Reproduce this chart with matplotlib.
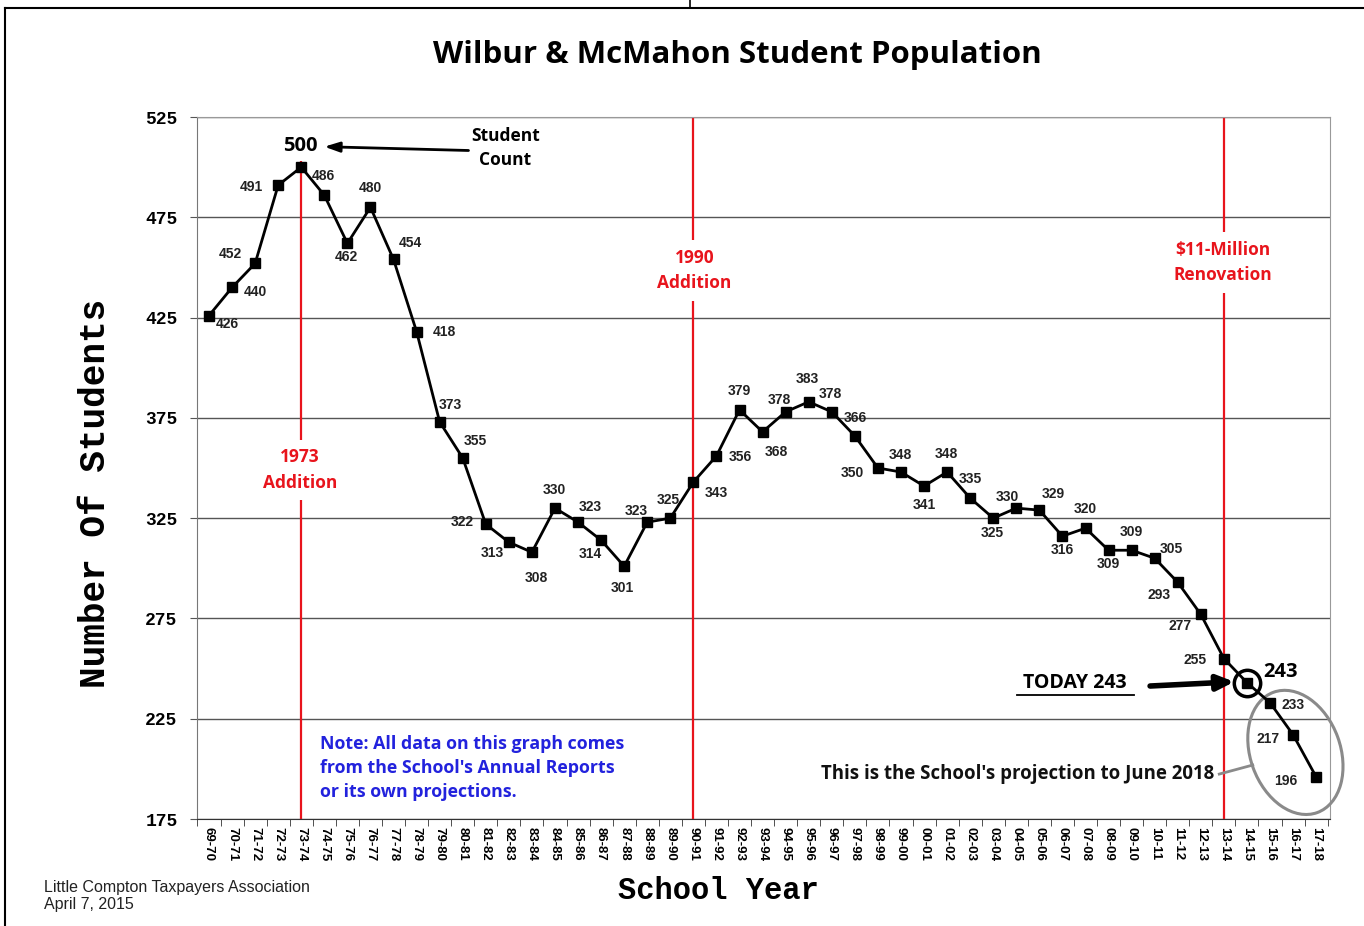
import matplotlib
matplotlib.use("Agg")
import matplotlib.pyplot as plt
from matplotlib.patches import Ellipse
from matplotlib.lines import Line2D
import matplotlib.transforms as mtransforms

# ---------------- data ----------------
school_years = ["69-70", "70-71", "71-72", "72-73", "73-74", "74-75", "75-76", "76-77",
                "77-78", "78-79", "79-80", "80-81", "81-82", "82-83", "83-84", "84-85",
                "85-86", "86-87", "87-88", "88-89", "89-90", "90-91", "91-92", "92-93",
                "93-94", "94-95", "95-96", "96-97", "97-98", "98-99", "99-00", "00-01",
                "01-02", "02-03", "03-04", "04-05", "05-06", "06-07", "07-08", "08-09",
                "09-10", "10-11", "11-12", "12-13", "13-14", "14-15", "15-16", "16-17",
                "17-18"]
students = [426, 440, 452, 491, 500, 486, 462, 480, 454, 418,
            373, 355, 322, 313, 308, 330, 323, 314, 301, 323,
            325, 343, 356, 379, 368, 378, 383, 378, 366, 350,
            348, 341, 348, 335, 325, 330, 329, 316, 320, 309,
            309, 305, 293, 277, 255, 243, 233, 217, 196]
y_ticks = [175, 225, 275, 325, 375, 425, 475, 525]
events = ["73-74", "90-91", "13-14"]
event_labels = ["1973\nAddition", "1990\nAddition", "\\$11-Million\nRenovation"]
peak_year = "73-74"
today_year = "14-15"

# label offsets (pixels, x right / y down) relative to each point; None = special label
label_offsets = [(18, 8), (23, 5), (-25, -9), (-27, 2), None, (-1, -19), (-1, 14), (0, -19),
                 (17, -16), (28, 0), (11, -17), (13, -17), (-24, -2), (-17, 11), (4, 26),
                 (-1, -18), (12, -15), (-11, 14), (-2, 22), (-11, -11), (-2, -18), (23, 11),
                 (24, 1), (0, -19), (14, 20), (-6, -12), (-1, -23), (-1, -18), (0, -18),
                 (-26, 5), (-1, -17), (0, 19), (-1, -18), (0, -19), (-1, 15), (-9, -11),
                 (14, -16), (0, 14), (0, -19), (0, 14), (0, -18), (17, -9), (-19, 13),
                 (-21, 12), (-29, 1), None, (23, 2), (-25, 4), (-30, 4)]

SANS = "Open Sans"

# ---------------- figure ----------------
W, H = 1364, 926
fig = plt.figure(figsize=(W / 100, H / 100), dpi=100)
ax = fig.add_axes([197 / W, 1 - 819 / H, (1330 - 197) / W, (819 - 117) / H])

x = list(range(len(school_years)))
ax.set_xlim(-0.52, 48.6)
ax.set_ylim(175, 525)

# grid
for t in y_ticks:
    ax.axhline(t, color="#555555", lw=1.0, zorder=1)

# red event lines
red = "#e8141c"
for ev in events:
    i = school_years.index(ev)
    top = 503 if ev == peak_year else 525
    ax.plot([i, i], [175, top], color=red, lw=1.6, zorder=2, solid_capstyle="butt")

ann_pos = {"73-74": 349.0, "90-91": 448.5, "13-14": 452.5}
for ev, lab in zip(events, event_labels):
    i = school_years.index(ev)
    ax.text(i + 0.05 if ev == "90-91" else i - 0.05, ann_pos[ev], lab, color=red,
            fontsize=12.5, fontweight="bold", family=SANS, ha="center", va="center",
            linespacing=1.55, zorder=3,
            bbox=dict(facecolor="white", edgecolor="none", pad=6))

# main line
ax.plot(x, students, color="black", lw=2, marker="s", markersize=7,
        markerfacecolor="black", zorder=5, clip_on=False)

# data labels
for i, (v, off) in enumerate(zip(students, label_offsets)):
    if off is None:
        continue
    ax.annotate(str(v), xy=(i, v), xytext=(off[0], -off[1]), textcoords="offset pixels",
                ha="center", va="center", fontsize=10, fontweight="bold",
                family="Liberation Sans", color="#222222", zorder=6)

# peak label
ip = school_years.index(peak_year)
ax.annotate(str(students[ip]), xy=(ip, students[ip]), xytext=(-1, 21),
            textcoords="offset pixels", ha="center", va="center", fontsize=14.5,
            fontweight="bold", family=SANS, zorder=6)
ax.text(12.84, 509.5, "Student\nCount", ha="center", va="center", fontsize=12.5,
        fontweight="bold", family=SANS, linespacing=1.45)
ax.annotate("", xy=(5.0, 510.2), xytext=(11.25, 508.3),
            arrowprops=dict(arrowstyle="-|>,head_length=0.9,head_width=0.3",
                            color="black", lw=2, shrinkA=0, shrinkB=0))

# today
it = school_years.index(today_year)
ax.plot([it], [students[it]], marker="o", markersize=19, markerfacecolor="none",
        markeredgecolor="black", markeredgewidth=2.5, zorder=7)
ax.annotate(str(students[it]), xy=(it, students[it]), xytext=(34, 11),
            textcoords="offset pixels", ha="center", va="center", fontsize=14.5,
            fontweight="bold", family=SANS, zorder=6)
ax.text(37.55, 242.6, "TODAY 243", ha="center", va="center", fontsize=14,
        fontweight="bold", family=SANS)
ax.plot([35.05, 40.1], [237.0, 237.0], color="black", lw=1.3)
ax.annotate("", xy=(44.45, 243.4), xytext=(40.8, 241.3),
            arrowprops=dict(arrowstyle="-|>,head_length=1.0,head_width=0.45",
                            color="black", lw=4, shrinkA=0, shrinkB=0))

# projection ellipse
ell_trans = mtransforms.Affine2D() + mtransforms.ScaledTranslation(47.1, 208.2, ax.transData)
ell = Ellipse((0, 0), 90, 128, angle=20, facecolor="none", edgecolor="#8a8a8a",
              lw=2.2, transform=ell_trans, clip_on=False, zorder=4)
ax.add_patch(ell)
ax.plot([43.8, 45.25], [197.4, 201.9], color="#8a8a8a", lw=2)
ax.text(43.6, 197.6, "This is the School's projection to June 2018", ha="right",
        va="center", fontsize=13.4, fontweight="bold", family=SANS, color="#111111")

# note
ax.text(4.81, 216.8, "Note: All data on this graph comes\nfrom the School's Annual Reports\nor its own projections.",
        ha="left", va="top", fontsize=12.8, fontweight="bold", family=SANS,
        color="#2222dd", linespacing=1.42)

# axes styling
ax.set_yticks(y_ticks)
ax.set_yticklabels([str(t) for t in y_ticks], family="Liberation Mono",
                   fontweight="bold", fontsize=13)
ax.set_xticks(x)
ax.set_xticklabels(school_years, rotation=-90, family="Liberation Sans",
                   fontweight="bold", fontsize=9.5, va="top", ha="center")
ax.set_xticks([i + 0.5 for i in range(-1, len(school_years))], minor=True)
ax.tick_params(axis="x", which="major", length=0, pad=6)
ax.tick_params(axis="x", which="minor", length=5, color="#333333", direction="out")
ax.tick_params(axis="y", length=5, color="#555555", pad=9)
for s in ["left", "top", "right"]:
    ax.spines[s].set_color("#999999")
ax.spines["bottom"].set_color("#333333")
ax.spines["left"].set_color("#777777")

ax.set_ylabel("Number Of Students", family="Liberation Mono", fontweight="bold",
              fontsize=26)
ax.yaxis.set_label_coords((113 - 197) / 1133, 1 - (493 - 117) / 702)
ax.set_xlabel("School Year", family="Liberation Mono", fontweight="bold",
              fontsize=22)
ax.xaxis.set_label_coords((718 - 197) / 1133, (819 - 876) / 702)

fig.text(737 / W, 1 - 55 / H, "Wilbur & McMahon Student Population", ha="center",
         va="center", fontsize=22.5, fontweight="bold", family=SANS)
fig.text(44 / W, 1 - 896 / H, "Little Compton Taxpayers Association\nApril 7, 2015",
         ha="left", va="center", fontsize=11.5, family="Liberation Sans", color="#222222",
         linespacing=1.1)

# page border lines
fig.add_artist(Line2D([5 / W, 1], [1 - 8 / H, 1 - 8 / H], color="black", lw=1.5,
                      transform=fig.transFigure))
fig.add_artist(Line2D([5 / W, 5 / W], [0, 1 - 8 / H], color="black", lw=1.5,
                      transform=fig.transFigure))
fig.add_artist(Line2D([690 / W, 690 / W], [1 - 8 / H, 1], color="black", lw=1.2,
                      transform=fig.transFigure))

fig.savefig("out.png", dpi=100)
